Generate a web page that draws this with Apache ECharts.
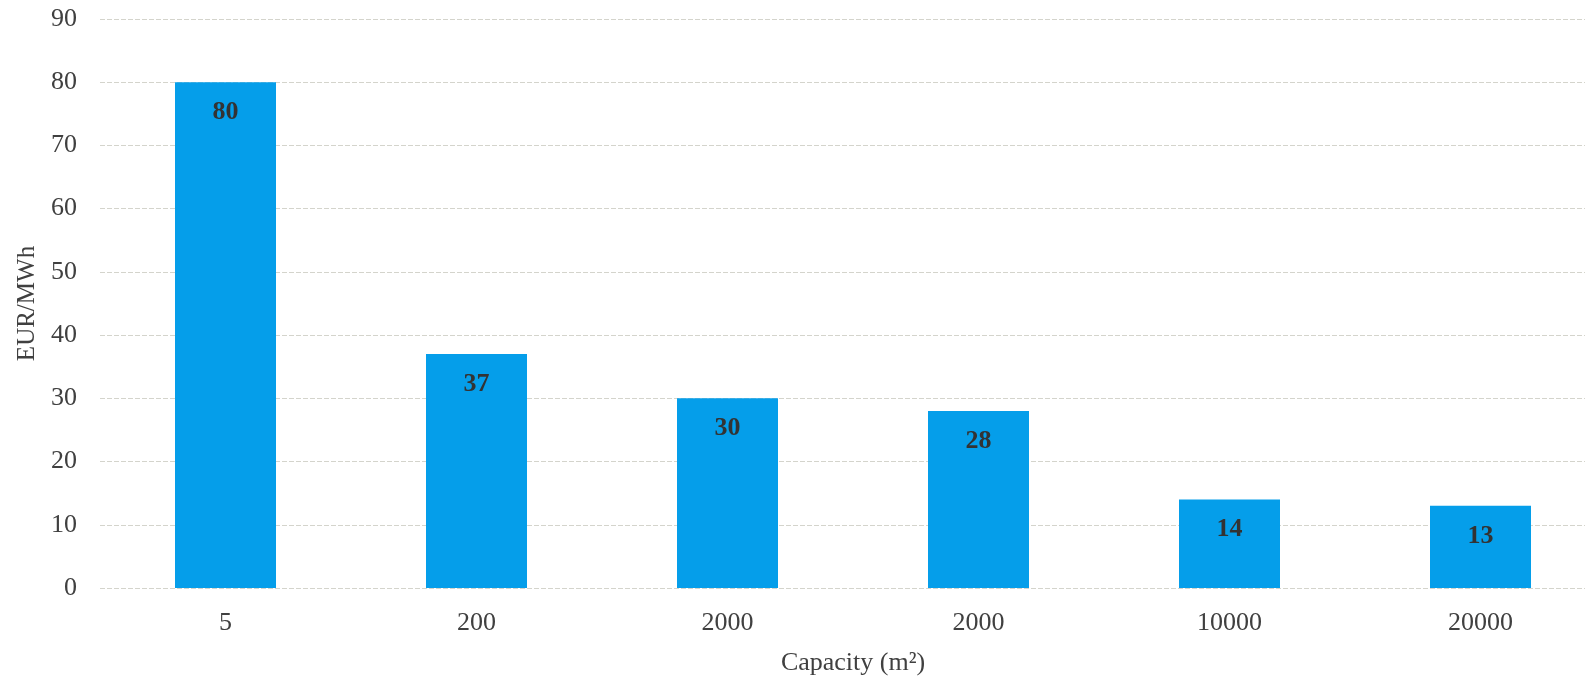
<!DOCTYPE html>
<html>
<head>
<meta charset="utf-8">
<script src="https://cdn.jsdelivr.net/npm/echarts@6/dist/echarts.min.js"></script>
<style>
  html, body { margin: 0; padding: 0; background: #fff; }
  #chart { width: 1585px; height: 680px; }
</style>
</head>
<body>
<div id="chart"></div>
<script>
// Levelised heat cost by collector field size
const categories = ['5', '200', '2000', '2000', '10000', '20000'];
const costValues = [80, 37, 30, 28, 14, 13];
const yAxisTitle = 'EUR/MWh';
const xAxisTitle = 'Capacity (m²)';

const FONT = '"Liberation Serif", "DejaVu Serif", serif';
const TEXT = '#404040';

const chart = echarts.init(document.getElementById('chart'), null, { renderer: 'canvas' });
chart.setOption({
  animation: false,
  backgroundColor: '#ffffff',
  grid: {
    left: 100, top: 19, width: 1506, height: 569,
    containLabel: false,
    outerBoundsMode: 'none'
  },
  xAxis: {
    type: 'category',
    data: categories,
    name: xAxisTitle,
    nameLocation: 'middle',
    nameGap: 62,
    nameTextStyle: { fontFamily: FONT, fontSize: 26, color: TEXT },
    axisLine: { show: false },
    axisTick: { show: false },
    axisLabel: { fontFamily: FONT, fontSize: 26, color: TEXT, margin: 22 }
  },
  yAxis: {
    type: 'value',
    min: 0,
    max: 90,
    interval: 10,
    name: yAxisTitle,
    nameLocation: 'middle',
    nameGap: 60,
    nameTextStyle: { fontFamily: FONT, fontSize: 25, color: TEXT },
    axisLine: { show: false },
    axisTick: { show: false },
    axisLabel: { fontFamily: FONT, fontSize: 26, color: TEXT, margin: 23 },
    splitLine: { show: true, lineStyle: { color: '#d4d4cc', width: 1.2, type: [5, 2] } }
  },
  series: [{
    type: 'bar',
    data: costValues,
    barWidth: 101,
    itemStyle: { color: '#059eea' },
    label: {
      show: true,
      position: 'insideTop',
      distance: 17,
      fontFamily: FONT,
      fontSize: 26,
      fontWeight: 'bold',
      color: '#333333'
    }
  }]
});
</script>
</body>
</html>
